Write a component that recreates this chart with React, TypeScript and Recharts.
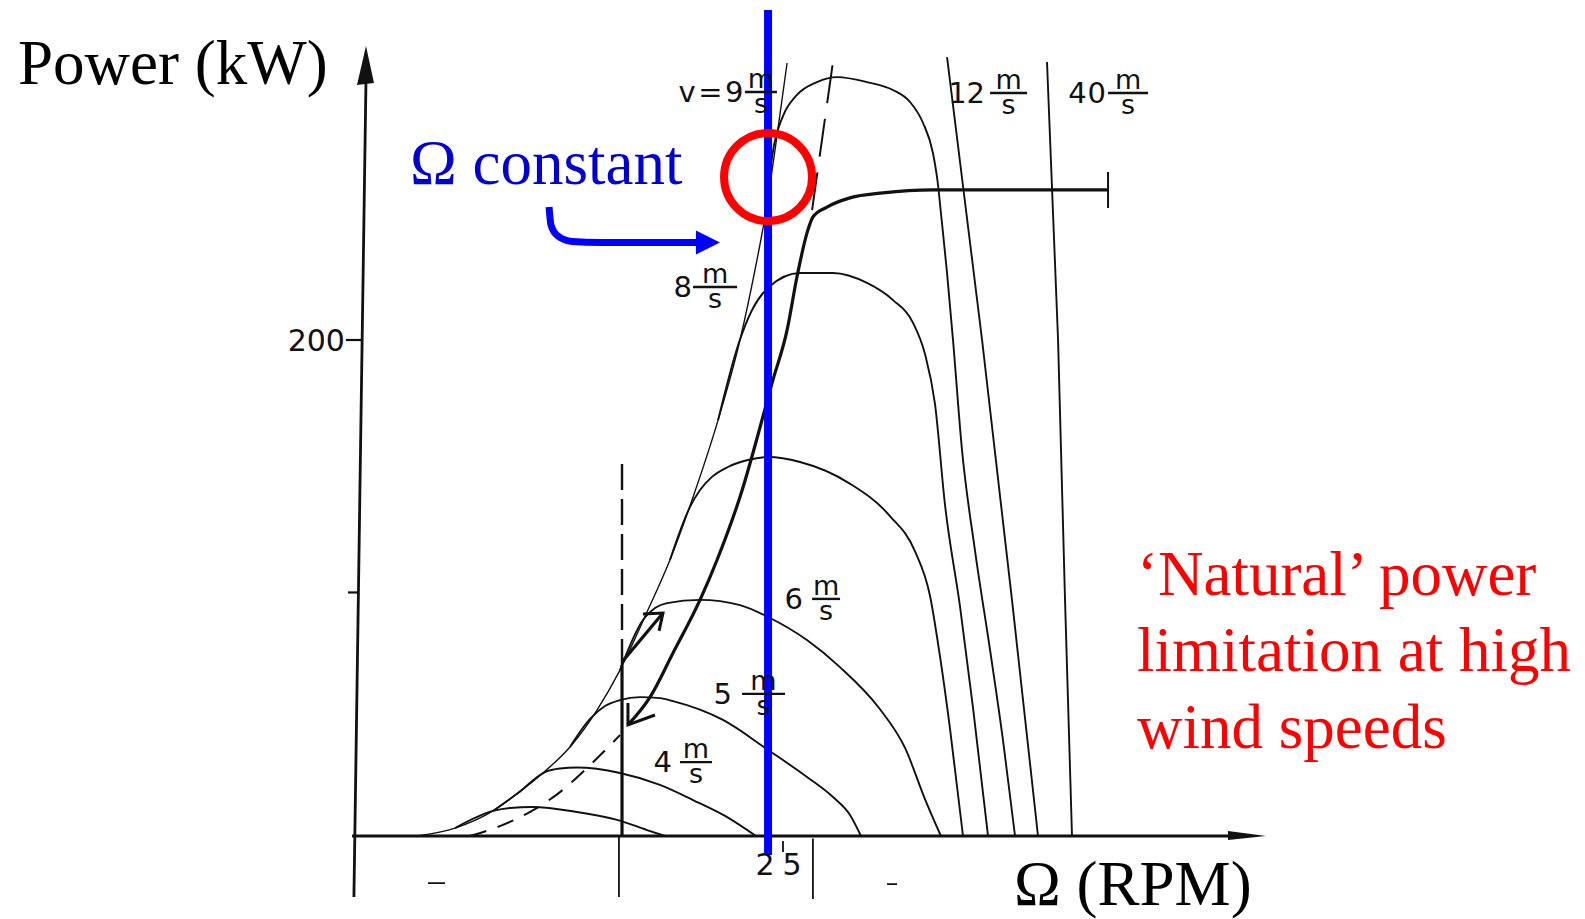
import React from 'react';
import { ComposedChart, Line, XAxis, YAxis, ReferenceDot } from 'recharts';

type Pt = { x: number; y: number };

// Rotor speed Ω in RPM (x) against shaft power in kW (y).

// common low-speed flank shared by all constant-wind curves
const ENVELOPE: Pt[] = [
  { x: 3.47, y: 0 }, { x: 5.71, y: 3.2 }, { x: 7.94, y: 10.1 }, { x: 9.41, y: 17.3 },
  { x: 10.88, y: 25.4 }, { x: 12.47, y: 35.9 }, { x: 14.06, y: 50.8 }, { x: 15.41, y: 66.9 },
  { x: 17.0, y: 90.3 }, { x: 18.35, y: 111.3 }, { x: 19.71, y: 136.7 }, { x: 21.18, y: 167.7 },
  { x: 22.47, y: 200.0 }, { x: 23.35, y: 228.2 }, { x: 23.94, y: 249.6 }, { x: 24.53, y: 276.6 },
  { x: 25.24, y: 311.7 },
];

const WIND_3: Pt[] = [
  { x: 5.71, y: 3.2 }, { x: 7.94, y: 10.1 }, { x: 8.94, y: 11.3 }, { x: 10.24, y: 11.7 },
  { x: 12.88, y: 9.7 }, { x: 15.24, y: 6.5 }, { x: 17.0, y: 2.4 }, { x: 18.06, y: 0 },
];
const WIND_4: Pt[] = [
  { x: 7.94, y: 10.1 }, { x: 9.41, y: 17.3 }, { x: 11.0, y: 25.8 }, { x: 11.88, y: 27.2 },
  { x: 12.88, y: 27.6 }, { x: 15.41, y: 25.4 }, { x: 17.76, y: 20.6 }, { x: 19.71, y: 14.5 },
  { x: 21.59, y: 8.1 }, { x: 23.41, y: 0 },
];
const WIND_5: Pt[] = [
  { x: 12.47, y: 35.9 }, { x: 13.65, y: 47.2 }, { x: 14.53, y: 52.4 }, { x: 15.41, y: 54.8 },
  { x: 16.59, y: 56.0 }, { x: 17.76, y: 55.6 }, { x: 18.53, y: 54.4 }, { x: 21.47, y: 46.8 },
  { x: 24.12, y: 34.7 }, { x: 26.41, y: 23.8 }, { x: 27.94, y: 15.7 }, { x: 28.94, y: 8.5 },
  { x: 29.59, y: 0 },
];
const WIND_6: Pt[] = [
  { x: 15.41, y: 66.9 }, { x: 16.76, y: 87.1 }, { x: 17.47, y: 91.9 }, { x: 18.18, y: 93.9 },
  { x: 20.12, y: 95.2 }, { x: 22.47, y: 93.1 }, { x: 24.12, y: 88.3 }, { x: 26.41, y: 79.0 },
  { x: 28.35, y: 68.1 }, { x: 30.65, y: 51.6 }, { x: 32.18, y: 35.5 }, { x: 33.35, y: 14.9 },
  { x: 34.29, y: 0 },
];
const WIND_7: Pt[] = [
  { x: 18.35, y: 111.3 }, { x: 19.53, y: 132.7 }, { x: 20.12, y: 139.5 }, { x: 20.82, y: 144.8 },
  { x: 21.76, y: 148.8 }, { x: 22.94, y: 151.6 }, { x: 24.12, y: 152.8 }, { x: 26.0, y: 150.8 },
  { x: 28.88, y: 142.3 }, { x: 31.29, y: 129.0 }, { x: 32.76, y: 114.9 }, { x: 33.65, y: 96.8 },
  { x: 34.24, y: 72.2 }, { x: 34.82, y: 43.5 }, { x: 35.59, y: 0 },
];
const WIND_8: Pt[] = [
  { x: 21.18, y: 167.7 }, { x: 22.41, y: 199.0 }, { x: 23.18, y: 212.1 }, { x: 24.18, y: 221.4 },
  { x: 26.0, y: 227.0 }, { x: 27.94, y: 227.0 }, { x: 29.94, y: 223.0 }, { x: 31.47, y: 216.1 },
  { x: 32.65, y: 206.9 }, { x: 33.35, y: 194.4 }, { x: 33.94, y: 174.2 }, { x: 34.53, y: 133.5 },
  { x: 35.41, y: 92.7 }, { x: 36.18, y: 51.6 }, { x: 37.06, y: 0 },
];
const WIND_9: Pt[] = [
  { x: 23.94, y: 249.6 }, { x: 24.47, y: 278.6 }, { x: 25.0, y: 290.3 }, { x: 25.82, y: 298.8 },
  { x: 27.0, y: 304.0 }, { x: 28.18, y: 306.0 }, { x: 29.94, y: 304.0 }, { x: 31.47, y: 300.8 },
  { x: 32.47, y: 296.0 }, { x: 33.24, y: 287.5 }, { x: 33.82, y: 275.4 }, { x: 34.12, y: 262.5 },
  { x: 34.29, y: 251.2 }, { x: 34.65, y: 227.0 }, { x: 35.0, y: 200.0 }, { x: 35.53, y: 155.6 },
  { x: 36.29, y: 115.3 }, { x: 37.18, y: 75.0 }, { x: 37.94, y: 38.7 }, { x: 38.65, y: 0 },
];
const WIND_12: Pt[] = [
  { x: 34.65, y: 314.1 }, { x: 36.71, y: 200.0 }, { x: 38.47, y: 95.2 }, { x: 40.0, y: 0 },
];
const WIND_40: Pt[] = [
  { x: 40.53, y: 312.1 }, { x: 41.18, y: 200.0 }, { x: 41.59, y: 95.2 }, { x: 42.0, y: 0 },
];

// generator operating path (bold) and optimum-power locus (dashed)
const OPERATING: Pt[] = [
  { x: 15.88, y: 44.8 }, { x: 17.18, y: 56.0 }, { x: 18.53, y: 73.8 }, { x: 20.12, y: 95.2 },
  { x: 21.12, y: 111.3 }, { x: 22.47, y: 136.7 }, { x: 24.41, y: 183.9 }, { x: 25.24, y: 204.0 },
  { x: 25.82, y: 225.4 }, { x: 26.41, y: 243.1 }, { x: 26.76, y: 249.6 }, { x: 27.59, y: 253.6 },
  { x: 28.94, y: 257.3 }, { x: 30.88, y: 259.3 }, { x: 33.82, y: 260.5 }, { x: 44.12, y: 260.5 },
];
const OPERATING_END: Pt[] = [{ x: 44.12, y: 253.2 }, { x: 44.12, y: 267.7 }];
const OPTIMUM_LOW: Pt[] = [
  { x: 6.59, y: 0 }, { x: 8.35, y: 4.0 }, { x: 10.12, y: 9.7 }, { x: 11.88, y: 17.7 },
  { x: 13.65, y: 28.6 }, { x: 15.41, y: 40.7 },
];
const OPTIMUM_HIGH: Pt[] = [{ x: 26.71, y: 252.4 }, { x: 27.94, y: 312.1 }];

// cut-in speed line
const CUT_IN_SOLID: Pt[] = [{ x: 15.53, y: 0 }, { x: 15.53, y: 69.0 }];
const CUT_IN_DASHED: Pt[] = [{ x: 15.53, y: 69.0 }, { x: 15.53, y: 150.4 }];
const CUT_IN_BELOW: Pt[] = [{ x: 15.35, y: 0 }, { x: 15.35, y: -24.6 }];

// start-up / shut-down arrows
const ARROW_UP_SHAFT: Pt[] = [{ x: 15.53, y: 70.2 }, { x: 17.94, y: 89.9 }];
const ARROW_UP_HEAD: Pt[] = [{ x: 16.76, y: 89.5 }, { x: 17.94, y: 89.9 }, { x: 17.71, y: 82.7 }];
const ARROW_DOWN_HEAD: Pt[] = [{ x: 15.88, y: 53.6 }, { x: 15.88, y: 44.8 }, { x: 17.47, y: 48.8 }];

// constant rotor speed
const OMEGA_CONST: Pt[] = [{ x: 24.12, y: -7.7 }, { x: 24.12, y: 333.1 }];
const OMEGA_POINTER: Pt[] = [
  { x: 11.24, y: 253.6 }, { x: 11.35, y: 246.4 }, { x: 11.76, y: 241.9 }, { x: 12.59, y: 239.7 },
  { x: 14.24, y: 239.3 }, { x: 19.94, y: 239.3 },
];
const OMEGA_POINTER_TIP = { x: 21.29, y: 239.3 };
const LIMIT_MARK = { x: 24.12, y: 265.7 };

// axes, ticks
const Y_AXIS_LINE: Pt[] = [{ x: -0.24, y: -24.6 }, { x: 0.47, y: 304.8 }];
const Y_AXIS_TIP = { x: 0.47, y: 318.5 };
const X_AXIS_LINE: Pt[] = [{ x: -0.35, y: 0 }, { x: 52.0, y: 0 }];
const X_AXIS_TIP = { x: 53.41, y: 0 };
const TICK_200: Pt[] = [{ x: -0.71, y: 200 }, { x: 0.24, y: 200 }];
const TICK_100: Pt[] = [{ x: -0.59, y: 98.2 }, { x: 0.06, y: 98.2 }];
const TICK_25: Pt[] = [{ x: 25, y: -2 }, { x: 25, y: -6.5 }];
const TICK_X2: Pt[] = [{ x: 26.76, y: -1 }, { x: 26.76, y: -25.4 }];
const SPECK_A: Pt[] = [{ x: 4.12, y: -19.0 }, { x: 5.12, y: -19.0 }];
const SPECK_B: Pt[] = [{ x: 31.12, y: -19.4 }, { x: 31.71, y: -19.4 }];

// wind-speed labels: anchor at the left end of the m/s fraction bar
const SPEED_LABELS = [
  { x: 22.76, y: 300.0, text: 'v=9' },
  { x: 19.71, y: 221.4, text: '8' },
  { x: 26.71, y: 95.6, text: '6' },
  { x: 22.59, y: 57.3, text: '5' },
  { x: 18.94, y: 29.8, text: '4' },
  { x: 37.18, y: 299.6, text: '12' },
  { x: 44.12, y: 299.6, text: '40' },
];
const SPEED_LABEL_LAYOUT = [
  { bar: 32, gap: -1, spacing: 2.5 }, { bar: 44, gap: 1, spacing: 0 }, { bar: 28, gap: 9, spacing: 0 },
  { bar: 43, gap: 10, spacing: 0 }, { bar: 32, gap: 8, spacing: 0 }, { bar: 37, gap: 5, spacing: 0 },
  { bar: 40, gap: 1, spacing: 1 },
];

const Y_TICK_LABEL = { x: -0.71, y: 200, text: '200' };
const X_TICK_LABEL = { x: 25, y: 0, text: ['2', '5'] };

const Y_TITLE = { x: -20.0, y: 303.2, text: 'Power (kW)' };
const X_TITLE = { x: 38.59, y: -28.0, text: 'Ω (RPM)' };
const OMEGA_NOTE = { x: 3.06, y: 262.9, text: 'Ω constant' };
const NATURAL_NOTE = {
  x: 45.82,
  y: 97.2,
  text: ['‘Natural’ power', 'limitation at high', 'wind speeds'],
};

const INK = '#111';
const BLUE = '#0000ff';
const BLUE_TEXT = '#0000d0';
const RED = '#ff0000';
const SERIF = '"Liberation Serif", "Times New Roman", serif';
const SANS = '"DejaVu Sans", "Liberation Sans", sans-serif';

type Series = {
  id: string;
  data: Pt[];
  width: number;
  type?: 'monotone' | 'linear';
  dash?: string;
  color?: string;
};

const BLACK_SERIES: Series[] = [
  { id: 'xaxis', data: X_AXIS_LINE, width: 2.8, type: 'linear' },
  { id: 'yaxis', data: Y_AXIS_LINE, width: 2.8, type: 'linear' },
  { id: 't200', data: TICK_200, width: 2.2, type: 'linear' },
  { id: 't100', data: TICK_100, width: 2.2, type: 'linear' },
  { id: 't25', data: TICK_25, width: 1.8, type: 'linear' },
  { id: 'tx2', data: TICK_X2, width: 1.8, type: 'linear' },
  { id: 'speckA', data: SPECK_A, width: 1.6, type: 'linear' },
  { id: 'speckB', data: SPECK_B, width: 1.6, type: 'linear' },
  { id: 'env', data: ENVELOPE, width: 1.4 },
  { id: 'w3', data: WIND_3, width: 1.9 },
  { id: 'w4', data: WIND_4, width: 1.9 },
  { id: 'w5', data: WIND_5, width: 1.9 },
  { id: 'w6', data: WIND_6, width: 1.9 },
  { id: 'w7', data: WIND_7, width: 1.9 },
  { id: 'w8', data: WIND_8, width: 1.9 },
  { id: 'w9', data: WIND_9, width: 1.9 },
  { id: 'w12', data: WIND_12, width: 1.9, type: 'linear' },
  { id: 'w40', data: WIND_40, width: 1.9, type: 'linear' },
  { id: 'optLow', data: OPTIMUM_LOW, width: 2.0, dash: '17 12' },
  { id: 'optHigh', data: OPTIMUM_HIGH, width: 2.0, type: 'linear', dash: '38 16' },
  { id: 'cutSolid', data: CUT_IN_SOLID, width: 3.2, type: 'linear' },
  { id: 'cutDashed', data: CUT_IN_DASHED, width: 2.4, type: 'linear', dash: '26 9' },
  { id: 'cutBelow', data: CUT_IN_BELOW, width: 1.8, type: 'linear' },
  { id: 'oper', data: OPERATING, width: 3.2 },
  { id: 'operEnd', data: OPERATING_END, width: 2.0, type: 'linear' },
  { id: 'upShaft', data: ARROW_UP_SHAFT, width: 3.2, type: 'linear' },
  { id: 'upHead', data: ARROW_UP_HEAD, width: 3.0, type: 'linear' },
  { id: 'downHead', data: ARROW_DOWN_HEAD, width: 3.0, type: 'linear' },
];

const BLUE_SERIES: Series[] = [
  { id: 'omega', data: OMEGA_CONST, width: 8, type: 'linear', color: BLUE },
  { id: 'pointer', data: OMEGA_POINTER, width: 7, color: BLUE },
];

const renderSeries = (s: Series, z: number) => (
  <Line
    key={s.id}
    data={s.data}
    dataKey="y"
    type={s.type ?? 'monotone'}
    stroke={s.color ?? INK}
    strokeWidth={s.width}
    strokeDasharray={s.dash}
    strokeLinecap="butt"
    dot={false}
    activeDot={false}
    isAnimationActive={false}
    legendType="none"
    zIndex={z}
  />
);

const SpeedLabel = ({ cx, cy, text, bar, gap, spacing }: any) => (
  <g>
    <text
      x={cx - gap}
      y={cy + 10}
      textAnchor="end"
      fontFamily={SANS}
      fontSize={29}
      letterSpacing={spacing}
      fill={INK}
    >
      {text}
    </text>
    <line x1={cx} y1={cy} x2={cx + bar} y2={cy} stroke={INK} strokeWidth={2.4} />
    <text x={cx + bar / 2} y={cy - 4} textAnchor="middle" fontFamily={SANS} fontSize={27} fill={INK}>
      m
    </text>
    <text x={cx + bar / 2} y={cy + 21} textAnchor="middle" fontFamily={SANS} fontSize={27} fill={INK}>
      s
    </text>
  </g>
);

export default function App() {
  return (
    <div style={{ position: 'absolute', left: 0, top: 0, width: 1585, height: 919, background: '#fff' }}>
      <ComposedChart
        width={1585}
        height={919}
        margin={{ top: 7.68, right: 3, bottom: 18.52, left: 1 }}
      >
        <XAxis type="number" dataKey="x" domain={[-21, 72]} hide allowDataOverflow />
        <YAxis type="number" dataKey="y" domain={[-26, 334]} hide allowDataOverflow />

        {BLACK_SERIES.map((s) => renderSeries(s, 400))}

        <ReferenceDot
          x={Y_AXIS_TIP.x}
          y={Y_AXIS_TIP.y}
          ifOverflow="visible"
          zIndex={410}
          shape={(p: any) => (
            <polygon
              points={`${p.cx},${p.cy} ${p.cx - 9},${p.cy + 39} ${p.cx + 8},${p.cy + 37}`}
              fill={INK}
            />
          )}
        />
        <ReferenceDot
          x={X_AXIS_TIP.x}
          y={X_AXIS_TIP.y}
          ifOverflow="visible"
          zIndex={410}
          shape={(p: any) => (
            <polygon
              points={`${p.cx},${p.cy} ${p.cx - 38},${p.cy - 5} ${p.cx - 38},${p.cy + 4}`}
              fill={INK}
            />
          )}
        />

        {BLUE_SERIES.map((s) => renderSeries(s, 500))}

        <ReferenceDot
          x={OMEGA_POINTER_TIP.x}
          y={OMEGA_POINTER_TIP.y}
          ifOverflow="visible"
          zIndex={510}
          shape={(p: any) => (
            <polygon
              points={`${p.cx},${p.cy} ${p.cx - 24},${p.cy - 12} ${p.cx - 24},${p.cy + 12}`}
              fill={BLUE}
            />
          )}
        />

        <ReferenceDot
          x={LIMIT_MARK.x}
          y={LIMIT_MARK.y}
          r={44}
          fill="none"
          stroke={RED}
          strokeWidth={8}
          ifOverflow="visible"
          zIndex={600}
        />

        {SPEED_LABELS.map((l, i) => (
          <ReferenceDot
            key={`sl-${i}`}
            x={l.x}
            y={l.y}
            ifOverflow="visible"
            zIndex={700}
            shape={(p: any) => (
              <SpeedLabel
                cx={p.cx}
                cy={p.cy}
                text={l.text}
                bar={SPEED_LABEL_LAYOUT[i].bar}
                gap={SPEED_LABEL_LAYOUT[i].gap}
                spacing={SPEED_LABEL_LAYOUT[i].spacing}
              />
            )}
          />
        ))}

        <ReferenceDot
          x={Y_TICK_LABEL.x}
          y={Y_TICK_LABEL.y}
          ifOverflow="visible"
          zIndex={700}
          shape={(p: any) => (
            <text x={p.cx - 1} y={p.cy + 11} textAnchor="end" fontFamily={SANS} fontSize={30} fill={INK}>
              {Y_TICK_LABEL.text}
            </text>
          )}
        />
        <ReferenceDot
          x={X_TICK_LABEL.x}
          y={X_TICK_LABEL.y}
          ifOverflow="visible"
          zIndex={700}
          shape={(p: any) => (
            <g>
              <text x={p.cx - 18} y={p.cy + 39} textAnchor="middle" fontFamily={SANS} fontSize={30} fill={INK}>
                {X_TICK_LABEL.text[0]}
              </text>
              <text x={p.cx + 9} y={p.cy + 39} textAnchor="middle" fontFamily={SANS} fontSize={30} fill={INK}>
                {X_TICK_LABEL.text[1]}
              </text>
            </g>
          )}
        />

        <ReferenceDot
          x={Y_TITLE.x}
          y={Y_TITLE.y}
          ifOverflow="visible"
          zIndex={700}
          shape={(p: any) => (
            <text x={p.cx} y={p.cy} fontFamily={SERIF} fontSize={63} fill="#000">
              {Y_TITLE.text}
            </text>
          )}
        />
        <ReferenceDot
          x={X_TITLE.x}
          y={X_TITLE.y}
          ifOverflow="visible"
          zIndex={700}
          shape={(p: any) => (
            <text x={p.cx} y={p.cy} fontFamily={SERIF} fontSize={63} fill="#000">
              {X_TITLE.text}
            </text>
          )}
        />
        <ReferenceDot
          x={OMEGA_NOTE.x}
          y={OMEGA_NOTE.y}
          ifOverflow="visible"
          zIndex={700}
          shape={(p: any) => (
            <text x={p.cx} y={p.cy} fontFamily={SERIF} fontSize={63} fill={BLUE_TEXT}>
              {OMEGA_NOTE.text}
            </text>
          )}
        />
        <ReferenceDot
          x={NATURAL_NOTE.x}
          y={NATURAL_NOTE.y}
          ifOverflow="visible"
          zIndex={700}
          shape={(p: any) => (
            <text x={p.cx} y={p.cy} fontFamily={SERIF} fontSize={63} fill={RED}>
              {NATURAL_NOTE.text.map((t, i) => (
                <tspan key={i} x={p.cx} dy={i === 0 ? 0 : 76.5}>
                  {t}
                </tspan>
              ))}
            </text>
          )}
        />
      </ComposedChart>
    </div>
  );
}
